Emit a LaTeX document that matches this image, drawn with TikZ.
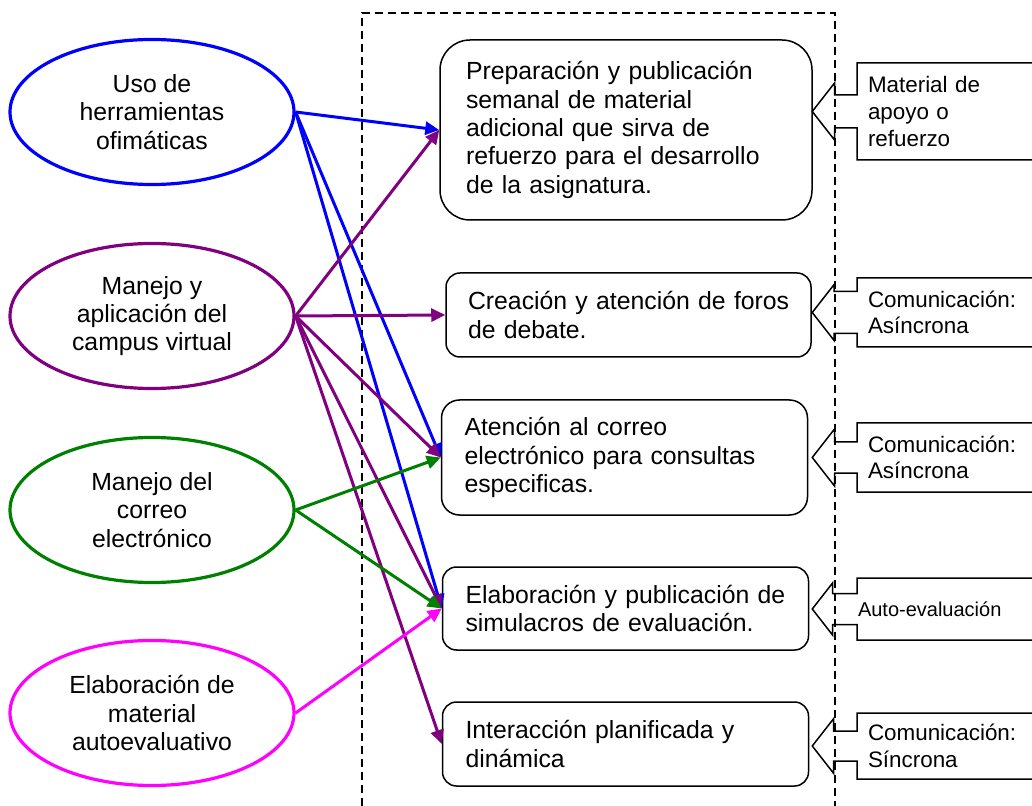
\documentclass[tikz,border=0pt]{standalone}
\usepackage{fontspec}
\setmainfont{Liberation Sans}
\usetikzlibrary{shapes.geometric,shapes.arrows,arrows.meta}

\definecolor{azul}{RGB}{0,0,255}
\definecolor{morado}{RGB}{128,0,128}
\definecolor{verde}{RGB}{0,128,0}
\definecolor{rosa}{RGB}{255,0,255}

\tikzset{
  skill/.style={ellipse,draw,line width=1.6pt,minimum width=142pt,minimum height=72.5pt,inner sep=0pt,align=center,font=\fontsize{12.4}{14.2}\selectfont},
  task/.style={draw,line width=0.75pt,rounded corners=7pt,text width=160pt,inner xsep=11.5pt,align=left,font=\fontsize{12.4}{14.2}\selectfont},
  tag/.style={arrow box,draw,line width=0.75pt,arrow box arrows={west:22pt},arrow box tip angle=104,text width=89pt,inner xsep=5.5pt,align=left,font=\fontsize{11.2}{13.25}\selectfont},
  link/.style={line width=1.5pt,-{Triangle[length=7pt,width=6.5pt]}},
  frame/.style={line width=0.75pt,dash pattern=on 4pt off 2.5pt}
}

\begin{document}
\begin{tikzpicture}[x=0.5pt,y=-0.5pt]
\useasboundingbox (0,0) rectangle (1032,806);

\draw[frame] (362,806) -- (362,13) -- (835,13) -- (835,806);

% competencias
\node[skill,azul,text=black] (uso) at (152,112) {Uso de\\herramientas\\ofimáticas};
\node[skill,morado,text=black] (campus) at (152,316) {Manejo y\\aplicación del\\campus virtual};
\node[skill,verde,text=black] (correo) at (152,510) {Manejo del\\correo\\electrónico};
\node[skill,rosa,text=black] (autoev) at (152,713) {Elaboración de\\material\\autoevaluativo};

% actividades
\node[task,rounded corners=15pt,inner xsep=13pt,minimum height=90pt] (prep) at (626,130) {Preparación y publicación\\semanal de material\\adicional que sirva de\\refuerzo para el desarrollo\\de la asignatura.};
\node[task,inner xsep=11pt,text width=160.5pt,minimum height=42pt] (foros) at (628.5,315) {\mbox{Creación y atención de foros}\\de debate.};
\node[task,rounded corners=9pt,minimum height=57.5pt] (consultas) at (624.5,457.5) {Atención al correo\\electrónico para consultas\\especificas.};
\node[task,minimum height=41.5pt] (simul) at (625.5,608.5) {\mbox{Elaboración y publicación de}\\simulacros de evaluación.};
\node[task,minimum height=42pt] (interac) at (625.5,744) {Interacción planificada y\\dinámica};

% tipos
\node[tag,minimum height=48.5pt,arrow box shaft width=16.5pt,arrow box head extend=6pt] (t1) at (957,111.5) {Material de\\apoyo o\\refuerzo};
\node[tag,minimum height=34.5pt,arrow box shaft width=21pt,arrow box head extend=3.5pt] (t2) at (957,312.5) {Comunicación:\\Asíncrona};
\node[tag,minimum height=34.5pt,arrow box shaft width=15.5pt,arrow box head extend=6.5pt] (t3) at (957,457.5) {Comunicación:\\Asíncrona};
\node[tag,minimum height=31pt,arrow box shaft width=15.5pt,arrow box head extend=5.25pt,text width=99pt,inner xsep=0.5pt,font=\fontsize{10}{12}\selectfont] (t4) at (957,609) {Auto-evaluación};
\node[tag,minimum height=33pt,arrow box shaft width=15pt,arrow box head extend=6.25pt] (t5) at (957,746) {Comunicación:\\Síncrona};

% flechas
\draw[link,azul] (uso.east) -- (prep.west);
\draw[link,azul] (uso.east) -- (consultas.west);
\draw[link,azul] (uso.east) -- (simul.west);
\draw[link,morado] (campus.east) -- (prep.west);
\draw[link,morado] (campus.east) -- (foros.west);
\draw[link,morado] (campus.east) -- (consultas.west);
\draw[link,morado] (campus.east) -- (simul.west);
\draw[link,morado] (campus.east) -- (interac.west);
\draw[link,verde] (correo.east) -- (consultas.west);
\draw[link,verde] (correo.east) -- (simul.west);
\draw[link,rosa] (autoev.east) -- (simul.west);

\end{tikzpicture}
\end{document}
